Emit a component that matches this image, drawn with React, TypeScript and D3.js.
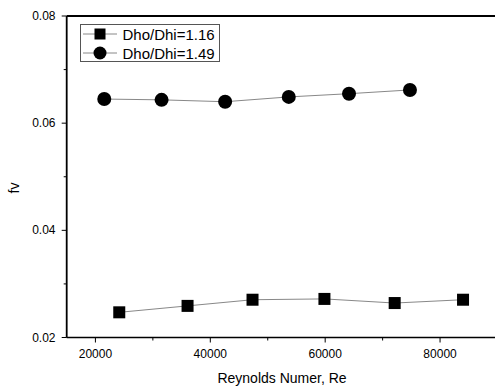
import React, { useEffect, useRef } from "react";
import * as d3 from "d3";

const reSmall = [24150, 36040, 47350, 59870, 72100, 84000];
const fvSmall = [0.0247, 0.0259, 0.02705, 0.0272, 0.02643, 0.02705];
const reLarge = [21540, 31520, 42580, 53660, 64150, 74760];
const fvLarge = [0.0645, 0.06435, 0.064, 0.0649, 0.0655, 0.0662];
const seriesNames = ["Dho/Dhi=1.16", "Dho/Dhi=1.49"];
const xTicks = [20000, 40000, 60000, 80000];
const yTicks = [0.02, 0.04, 0.06, 0.08];

const W = 495;
const H = 387;

const App = () => {
  const ref = useRef<SVGSVGElement>(null);

  useEffect(() => {
    const svg = d3.select(ref.current);
    svg.selectAll("*").remove();

    const x = d3.scaleLinear().domain([15000, 90000]).range([66.7, 497.5]);
    const y = d3.scaleLinear().domain([0.02, 0.08]).range([337.5, 16]);
    const font = "Arial, 'Liberation Sans', sans-serif";

    // frame: left, top, bottom (right edge is cut off by the window)
    svg.append("line").attr("x1", x(15000)).attr("x2", x(15000))
      .attr("y1", y(0.08)).attr("y2", y(0.02))
      .attr("stroke", "black").attr("stroke-width", 1.8);
    svg.append("line").attr("x1", x(15000)).attr("x2", W)
      .attr("y1", y(0.08)).attr("y2", y(0.08))
      .attr("stroke", "black").attr("stroke-width", 1.8);
    svg.append("line").attr("x1", x(15000)).attr("x2", W)
      .attr("y1", y(0.02)).attr("y2", y(0.02))
      .attr("stroke", "black").attr("stroke-width", 1.3);

    // x ticks
    const xMinor = d3.range(20000, 90001, 10000);
    svg.selectAll(".xt").data(xMinor).enter().append("line")
      .attr("x1", d => x(d)).attr("x2", d => x(d))
      .attr("y1", y(0.02)).attr("y2", d => y(0.02) + (xTicks.includes(d) ? 5 : 3))
      .attr("stroke", "black").attr("stroke-width", 1);
    svg.selectAll(".xl").data(xTicks).enter().append("text")
      .attr("x", d => x(d)).attr("y", y(0.02) + 20)
      .attr("text-anchor", "middle").style("font-family", font).style("font-size", "12px")
      .text(d => d);

    // y ticks
    const yMinor = d3.range(0.02, 0.0801, 0.01);
    svg.selectAll(".yt").data(yMinor).enter().append("line")
      .attr("y1", d => y(d)).attr("y2", d => y(d))
      .attr("x1", x(15000)).attr("x2", d => x(15000) - (yTicks.some(t => Math.abs(t - d) < 1e-6) ? 5 : 3))
      .attr("stroke", "black").attr("stroke-width", 1);
    svg.selectAll(".yl").data(yTicks).enter().append("text")
      .attr("x", 55.5).attr("y", d => y(d) + 4)
      .attr("text-anchor", "end").style("font-family", font).style("font-size", "12px")
      .text(d => d.toFixed(2));

    // axis titles
    svg.append("text")
      .attr("x", 282).attr("y", 383)
      .attr("text-anchor", "middle").style("font-family", font).style("font-size", "14px")
      .text("Reynolds Numer, Re");
    svg.append("text")
      .attr("transform", "translate(19,188) rotate(-90)")
      .attr("text-anchor", "middle").style("font-family", font).style("font-size", "14px")
      .text("fv");

    const line = d3.line<[number, number]>().x(d => x(d[0])).y(d => y(d[1]));
    const small: [number, number][] = reSmall.map((r, i) => [r, fvSmall[i]]);
    const large: [number, number][] = reLarge.map((r, i) => [r, fvLarge[i]]);

    svg.append("path").datum(small).attr("d", line)
      .attr("fill", "none").attr("stroke", "#888").attr("stroke-width", 1);
    svg.append("path").datum(large).attr("d", line)
      .attr("fill", "none").attr("stroke", "#888").attr("stroke-width", 1);

    svg.selectAll(".sq").data(small).enter().append("rect")
      .attr("x", d => x(d[0]) - 6).attr("y", d => y(d[1]) - 6)
      .attr("width", 12).attr("height", 12).attr("fill", "black");
    svg.selectAll(".ci").data(large).enter().append("circle")
      .attr("cx", d => x(d[0])).attr("cy", d => y(d[1])).attr("r", 7).attr("fill", "black");

    // legend
    const lg = svg.append("g");
    lg.append("rect").attr("x", 80.5).attr("y", 24.5).attr("width", 139).attr("height", 37)
      .attr("fill", "white").attr("stroke", "#555").attr("stroke-width", 1);
    seriesNames.forEach((name, i) => {
      const cy = 34 + i * 19;
      lg.append("line").attr("x1", 83).attr("x2", 117).attr("y1", cy).attr("y2", cy)
        .attr("stroke", "#888").attr("stroke-width", 1);
      if (i === 0) {
        lg.append("rect").attr("x", 94.5).attr("y", cy - 5.5).attr("width", 11).attr("height", 11).attr("fill", "black");
      } else {
        lg.append("circle").attr("cx", 100).attr("cy", cy).attr("r", 6.5).attr("fill", "black");
      }
      lg.append("text").attr("x", 122.5).attr("y", cy + 5.5)
        .style("font-family", font).style("font-size", "15px").text(name);
    });
  }, []);

  return (
    <svg ref={ref} width={W} height={H}
      style={{ position: "absolute", left: 0, top: 0, background: "white", overflow: "hidden" }} />
  );
};

export default App;
